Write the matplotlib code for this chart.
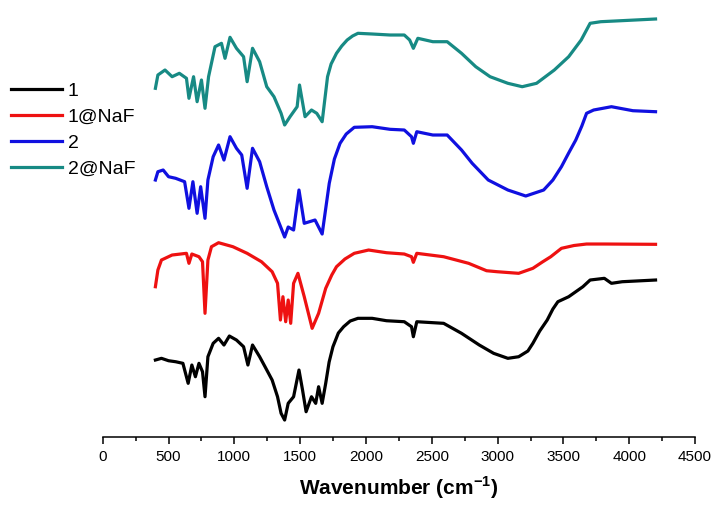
import numpy as np
import matplotlib
matplotlib.use('Agg')
import matplotlib.pyplot as plt
from matplotlib.ticker import MultipleLocator

plt.rcParams['font.family'] = ['Liberation Sans', 'DejaVu Sans']
plt.rcParams['mathtext.fontset'] = 'custom'
plt.rcParams['mathtext.rm'] = 'Liberation Sans'
plt.rcParams['mathtext.bf'] = 'Liberation Sans:bold'

# wavenumber (cm-1) and offset transmittance (arb. units)
wn_1 = [400, 446, 500, 554, 609, 649, 677, 704, 731, 758, 777, 799, 839, 880, 921, 962,
        1016, 1070, 1103, 1138, 1192, 1233, 1287, 1328, 1355, 1382, 1409, 1450, 1491,
        1518, 1545, 1586, 1618, 1640, 1667, 1694, 1720, 1749, 1790, 1830, 1880, 1939,
        2047, 2156, 2291, 2346, 2360, 2386, 2590, 2726, 2861, 2970, 3078, 3160, 3230,
        3268, 3320, 3377, 3420, 3458, 3540, 3594, 3648, 3703, 3811, 3865, 3947, 4200]
t_1 = [147, 148.7, 146.3, 145.3, 143.7, 123.7, 142, 130.3, 143.7, 135.3, 110.3, 150.3,
       163.7, 168.7, 162, 171, 167, 160.3, 142, 162, 150.3, 140.3, 127, 110.3, 93.7, 87,
       103.7, 110.3, 137, 117, 95.3, 110.3, 103.7, 120.3, 103.7, 123.7, 145, 160.3, 174,
       180.3, 186, 188.7, 188.7, 186.3, 185.3, 180.3, 170.3, 185.3, 183.7, 173.7, 162,
       153.7, 148.7, 150.3, 156, 163.7, 176, 187, 198, 205.3, 210.3, 215.3, 220.3, 227,
       228.7, 223.7, 225.3, 227]

wn_1naf = [400, 419, 446, 527, 636, 655, 677, 731, 758, 777, 799, 826, 880, 989, 1097,
           1206, 1287, 1328, 1350, 1369, 1390, 1409, 1428, 1450, 1483, 1531, 1591, 1640,
           1694, 1740, 1776, 1840, 1911, 2020, 2156, 2291, 2346, 2360, 2386, 2590, 2780,
           2916, 2997, 3160, 3268, 3340, 3404, 3485, 3580, 3676, 3811, 4200]
t_1naf = [220.3, 237, 247, 252, 253.7, 243.7, 253, 250.3, 245.3, 193.7, 247, 260.3, 264.3,
          260.3, 253.7, 245.3, 235.3, 223.7, 187, 210.3, 185.3, 207, 183.7, 223.7, 233.7,
          210.3, 178.7, 193.7, 218.7, 232, 240.3, 248, 253.7, 257, 254.3, 253, 250.3,
          244.7, 253.7, 250.3, 243.7, 236.3, 235.3, 233.7, 238.7, 245, 250.3, 258.7,
          261.5, 263, 263, 262.7]

wn_2 = [400, 419, 459, 500, 554, 622, 655, 685, 717, 744, 777, 799, 839, 880, 921, 967,
        1016, 1056, 1097, 1138, 1192, 1246, 1301, 1340, 1382, 1409, 1450, 1491, 1531,
        1613, 1667, 1721, 1760, 1803, 1850, 1911, 2047, 2183, 2291, 2346, 2360, 2386,
        2508, 2617, 2726, 2807, 2929, 3078, 3214, 3350, 3420, 3485, 3540, 3594, 3640,
        3676, 3730, 3865, 4028, 4200]
t_2 = [327, 335.3, 337, 330.3, 328.7, 325.3, 298.7, 325.3, 293.7, 320.3, 288.7, 327,
       350.3, 362, 347, 370.3, 358.7, 352, 318.7, 358.7, 345.3, 320.3, 297, 284, 270,
       280, 277, 317, 283.7, 287, 273, 323.7, 348, 363.7, 373, 379.7, 380.3, 377.7, 377,
       370.3, 363.7, 375.3, 372, 372, 357, 343.7, 327, 317, 311, 317, 327, 340.3, 354,
       367, 381, 393.7, 397, 400.3, 396.3, 395.3]

wn_2naf = [400, 419, 473, 527, 582, 636, 655, 690, 717, 750, 777, 804, 853, 902, 929,
           967, 1016, 1070, 1097, 1138, 1192, 1246, 1301, 1355, 1382, 1423, 1477, 1495,
           1537, 1586, 1626, 1667, 1708, 1735, 1776, 1816, 1857, 1898, 1939, 2047, 2183,
           2291, 2332, 2360, 2394, 2508, 2617, 2726, 2834, 2943, 3078, 3187, 3296, 3431,
           3540, 3635, 3703, 3784, 3893, 4200]
t_2naf = [418.7, 432, 437, 430.3, 433.7, 428.7, 408.7, 430.3, 405.3, 427, 398.7, 430.3,
          460.3, 463.7, 448.7, 469.7, 458.7, 450.3, 425.3, 458.7, 445.3, 420.3, 410.3,
          393.7, 382, 390.3, 400.3, 422, 390.3, 397, 393.7, 385.3, 430.3, 443, 453.7,
          461, 467, 471, 473.7, 473, 472, 472, 467, 458.7, 468.7, 465.3, 465.3, 453.7,
          440.3, 430.3, 423.7, 420.3, 423.7, 437, 450.3, 467, 483.7, 485.3, 486, 488]

labels = ['1', '1@NaF', '2', '2@NaF']
colors = ['#000000', '#ee1111', '#1010e0', '#178a84']

fig = plt.figure(figsize=(7.16, 5.07), dpi=100)
ax = fig.add_axes([0.1435, 0.138, 0.8272, 0.862])

series = [(wn_1, t_1), (wn_1naf, t_1naf), (wn_2, t_2), (wn_2naf, t_2naf)]
for (x, y), lab, c in zip(series, labels, colors):
    ax.plot(x, y, color=c, lw=2.3, label=lab)

ax.set_xlim(0, 4500)
ax.set_ylim(70, 507)
ax.xaxis.set_major_locator(MultipleLocator(500))
ax.xaxis.set_minor_locator(MultipleLocator(250))
for s in ['left', 'top', 'right']:
    ax.spines[s].set_visible(False)
ax.spines['bottom'].set_linewidth(1.1)
ax.set_yticks([])
ax.tick_params(axis='x', which='major', direction='out', length=5, width=1.1,
               labelsize=11, pad=4)
ax.tick_params(axis='x', which='minor', direction='out', length=2.8, width=1.1)
ax.set_xlabel(r'Wavenumber (cm$^{\mathbf{-1}}$)', fontsize=15, fontweight='bold',
              labelpad=8)

fig.legend(loc='upper left', bbox_to_anchor=(0.016, 0.838), frameon=False,
           fontsize=14, handlelength=2.6, handletextpad=0.3, labelspacing=0.43,
           borderpad=0, borderaxespad=0)

fig.savefig('out.png', dpi=100)
